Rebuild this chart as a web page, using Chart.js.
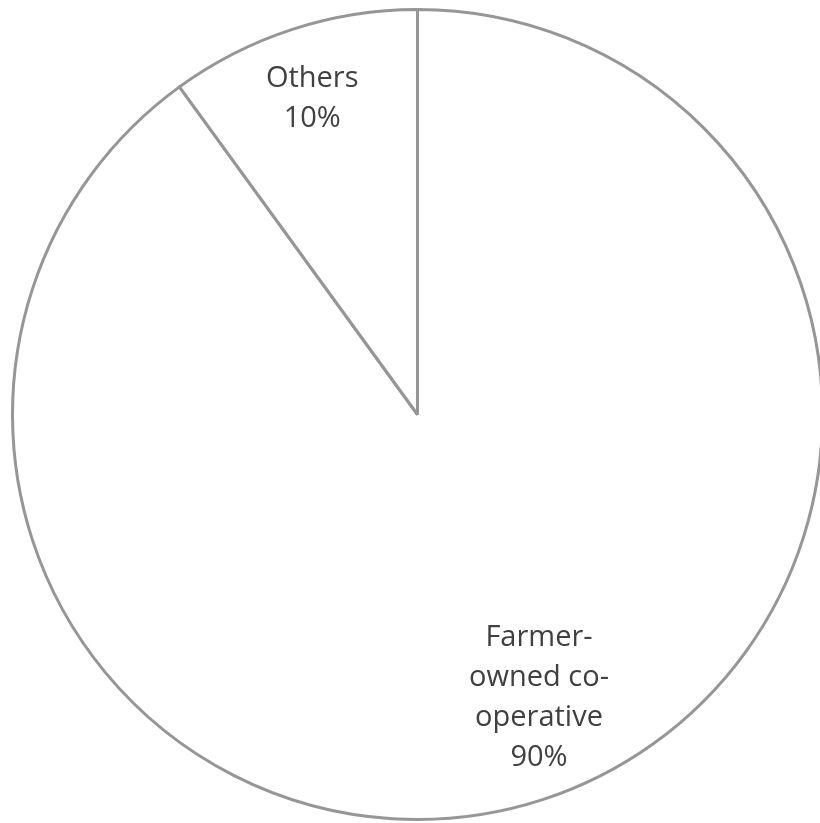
<!DOCTYPE html>
<html>
<head>
<meta charset="utf-8">
<script src="https://cdn.jsdelivr.net/npm/chart.js@4.4.1/dist/chart.umd.min.js"></script>
<style>
  html, body { margin: 0; padding: 0; background: #ffffff; overflow: hidden; }
  #wrap { position: absolute; left: 0; top: 0; width: 840px; height: 823px; }
</style>
</head>
<body>
<div id="wrap"><canvas id="pie"></canvas></div>
<script>
// Ownership shares (percent)
const categories = ["Farmer-owned co-operative", "Others"];
const shares = [90, 10];
// Label lines shown inside each slice
const labelLines = [
  ["Farmer-", "owned co-", "operative", "90%"],
  ["Others", "10%"]
];
// Label anchor relative to the pie centre, in units of the radius
const labelAnchors = [
  [0.30, 0.70],
  [-0.26, -0.78]
];

const sliceLabels = {
  id: "sliceLabels",
  afterDatasetsDraw(chart) {
    const ctx = chart.ctx;
    const meta = chart.getDatasetMeta(0);
    ctx.save();
    ctx.font = "29px 'Open Sans', sans-serif";
    ctx.fillStyle = "#404040";
    ctx.textAlign = "center";
    ctx.textBaseline = "middle";
    const lh = 40;
    meta.data.forEach((arc, i) => {
      const p = arc.getProps(["x", "y", "outerRadius"], true);
      const cx = p.x + labelAnchors[i][0] * p.outerRadius;
      const cy = p.y + labelAnchors[i][1] * p.outerRadius;
      const lines = labelLines[i];
      const top = cy - (lines.length - 1) * lh / 2;
      lines.forEach((t, k) => ctx.fillText(t, cx, top + k * lh));
    });
    ctx.restore();
  }
};

new Chart(document.getElementById("pie"), {
  type: "pie",
  data: {
    labels: categories,
    datasets: [{
      data: shares,
      backgroundColor: "#ffffff",
      borderColor: "#969696",
      borderWidth: 3,
      borderAlign: "center"
    }]
  },
  options: {
    responsive: true,
    maintainAspectRatio: false,
    animation: false,
    layout: { padding: { left: 11, right: 16, top: 8, bottom: 2 } },
    plugins: {
      legend: { display: false },
      tooltip: { enabled: false }
    }
  },
  plugins: [sliceLabels]
});
</script>
</body>
</html>
